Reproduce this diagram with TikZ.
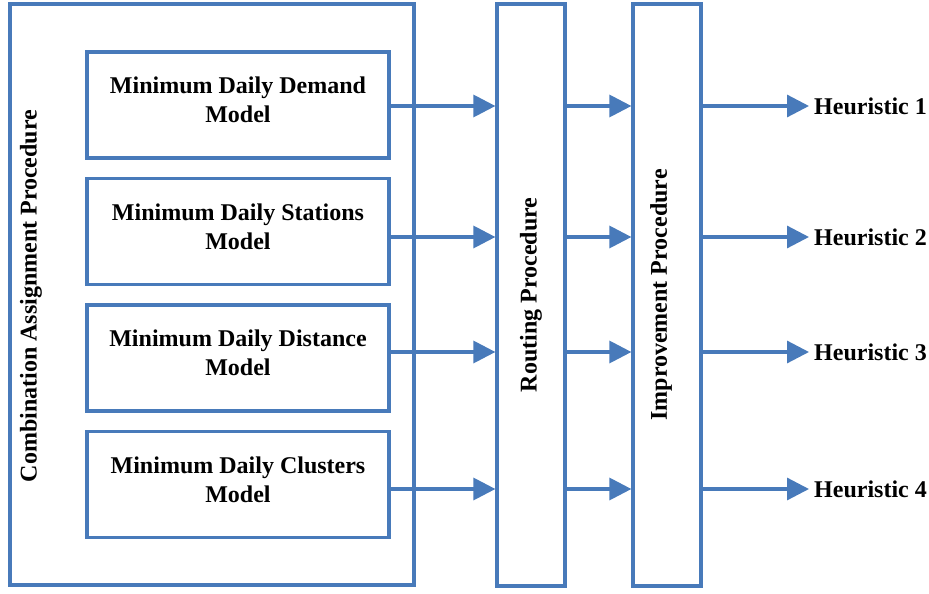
\documentclass[tikz,border=0pt]{standalone}
\usepackage{fontspec}
\setmainfont{Liberation Serif}
\usetikzlibrary{arrows.meta}
\definecolor{boxblue}{RGB}{72,122,186}

\begin{document}
\begin{tikzpicture}[x=1pt, y=-1pt,
    blockbox/.style={draw=boxblue, line width=3.2pt, inner sep=0pt},
    modelbox/.style={blockbox, minimum width=302pt, minimum height=106pt},
    boldtext/.style={font=\fontsize{24}{29}\selectfont\bfseries},
    modeltext/.style={boldtext, align=center},
    vertlabel/.style={boldtext, rotate=90},
    flow/.style={draw=boxblue, line width=3.2pt, -{Triangle[length=22pt,width=22pt]}}]

    \useasboundingbox (0,0) rectangle (929,594);

    % Combination assignment procedure
    \node[blockbox, minimum width=404pt, minimum height=581pt] (cap) at (212,294.5) {};
    \node[vertlabel] at (31,296) {Combination Assignment Procedure};

    % The four models
    \foreach \name/\y/\txt in {m1/105/Demand, m2/231.5/Stations, m3/358/Distance, m4/484.5/Clusters} {
        \node[modelbox] (\name) at (238,\y) {};
        \node[modeltext] at ([yshift=5pt]\name.center) {Minimum Daily \txt\\Model};
    }

    % Routing and improvement procedures
    \node[blockbox, minimum width=68pt, minimum height=582pt] (rp) at (531,295) {};
    \node[vertlabel] at (rp.center) {Routing Procedure};
    \node[blockbox, minimum width=68pt, minimum height=582pt] (ip) at (667,295) {};
    \node[vertlabel] at ([xshift=-6pt]ip.center) {Improvement Procedure};

    % Heuristics and the flow arrows
    \foreach \i/\y in {1/106, 2/237, 3/352, 4/489} {
        \node[boldtext, anchor=west, inner sep=5pt] (h\i) at (809,\y) {Heuristic \i};
        \draw[flow] (m\i.east |- h\i) -- (rp.west |- h\i);
        \draw[flow] (rp.east |- h\i) -- (ip.west |- h\i);
        \draw[flow] (ip.east |- h\i) -- (h\i.west);
    }

\end{tikzpicture}
\end{document}
